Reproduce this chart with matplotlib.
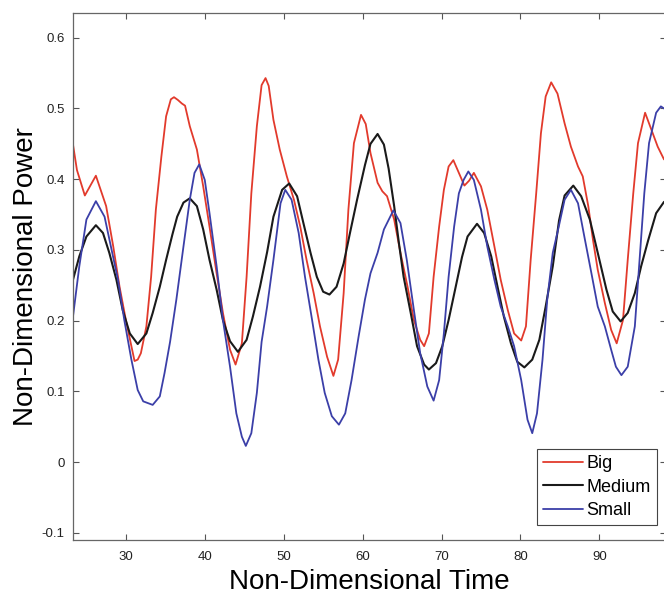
import matplotlib
matplotlib.use("Agg")
import matplotlib.pyplot as plt

# --- data ---
big_t = [23.3, 23.8, 24.8, 26.2, 27.5, 28.4, 29.2, 30.0, 30.7, 31.1, 31.5, 31.9, 32.6,
         33.2, 33.8, 34.5, 35.1, 35.7, 36.1, 36.6, 37.1, 37.5, 38.1, 39.0, 39.8, 40.6,
         41.5, 42.3, 43.2, 43.9, 44.7, 45.3, 45.9, 46.6, 47.2, 47.7, 48.1, 48.7, 49.5,
         50.4, 51.3, 52.1, 52.9, 53.8, 54.6, 55.5, 56.3, 56.9, 57.6, 58.2, 58.9, 59.8,
         60.4, 61.0, 61.9, 62.5, 63.1, 64.0, 64.8, 65.7, 66.5, 67.3, 67.8, 68.4, 69.0,
         69.7, 70.3, 70.9, 71.5, 72.2, 72.9, 73.5, 74.1, 75.0, 75.8, 76.7, 77.5, 78.4,
         79.2, 80.1, 80.7, 81.3, 82.0, 82.6, 83.2, 83.9, 84.7, 85.6, 86.4, 87.3, 87.9,
         88.6, 89.2, 89.8, 90.7, 91.5, 92.2, 93.0, 93.6, 94.3, 94.9, 95.8, 96.6, 97.4,
         98.2]
big_p = [0.449, 0.413, 0.377, 0.405, 0.362, 0.305, 0.248, 0.201, 0.164, 0.143, 0.145, 0.154,
         0.192, 0.262, 0.357, 0.432, 0.489, 0.513, 0.516, 0.512, 0.507, 0.504, 0.475, 0.442,
         0.39, 0.333, 0.267, 0.211, 0.159, 0.138, 0.168, 0.262, 0.38, 0.475, 0.533, 0.543,
         0.532, 0.484, 0.442, 0.404, 0.371, 0.333, 0.286, 0.239, 0.192, 0.149, 0.122, 0.145,
         0.239, 0.357, 0.451, 0.491, 0.478, 0.437, 0.395, 0.383, 0.376, 0.343, 0.296, 0.248,
         0.201, 0.173, 0.164, 0.182, 0.262, 0.333, 0.385, 0.418, 0.427, 0.409, 0.391, 0.398,
         0.409, 0.39, 0.357, 0.305, 0.258, 0.215, 0.182, 0.172, 0.192, 0.286, 0.38, 0.465,
         0.517, 0.537, 0.521, 0.479, 0.446, 0.418, 0.404, 0.362, 0.314, 0.272, 0.225, 0.187,
         0.168, 0.201, 0.286, 0.38, 0.451, 0.494, 0.47, 0.446, 0.428]

med_t = [23.3, 24.1, 25.0, 26.2, 27.1, 27.9, 28.8, 29.6, 30.5, 31.5, 32.6, 33.4, 34.3,
         35.1, 35.9, 36.5, 37.3, 38.1, 39.0, 39.8, 40.6, 41.5, 42.3, 43.2, 44.2, 45.3,
         46.1, 47.0, 47.9, 48.7, 49.8, 50.7, 51.7, 52.5, 53.4, 54.2, 55.0, 55.8, 56.7,
         57.6, 58.4, 59.3, 60.3, 61.0, 61.9, 62.7, 63.3, 64.0, 64.6, 65.2, 66.1, 66.9,
         67.8, 68.4, 69.3, 70.1, 70.9, 71.8, 72.6, 73.3, 74.5, 75.4, 76.3, 77.1, 77.9,
         78.8, 79.6, 80.5, 81.5, 82.4, 83.2, 84.1, 84.9, 85.6, 86.7, 87.7, 88.8, 89.8,
         90.9, 91.7, 92.7, 93.6, 94.5, 95.3, 96.2, 97.2, 98.2]
med_p = [0.258, 0.291, 0.319, 0.335, 0.324, 0.296, 0.258, 0.215, 0.182, 0.167, 0.182, 0.211,
         0.248, 0.286, 0.322, 0.347, 0.367, 0.373, 0.362, 0.329, 0.286, 0.244, 0.201, 0.171,
         0.156, 0.173, 0.206, 0.248, 0.297, 0.347, 0.385, 0.394, 0.376, 0.338, 0.296, 0.262,
         0.241, 0.237, 0.248, 0.281, 0.324, 0.371, 0.42, 0.45, 0.464, 0.449, 0.415, 0.362,
         0.31, 0.262, 0.211, 0.164, 0.138, 0.131, 0.14, 0.164, 0.201, 0.248, 0.29, 0.319,
         0.337, 0.324, 0.291, 0.248, 0.206, 0.168, 0.142, 0.134, 0.145, 0.173, 0.22, 0.277,
         0.342, 0.377, 0.391, 0.376, 0.343, 0.296, 0.244, 0.213, 0.199, 0.211, 0.239, 0.277,
         0.314, 0.352, 0.368]

small_t = [23.3, 24.1, 25.0, 26.2, 27.3, 28.1, 29.0, 29.8, 30.7, 31.5, 32.2, 33.4, 34.3,
           34.9, 35.6, 36.4, 37.3, 38.1, 38.7, 39.3, 40.0, 40.6, 41.5, 42.3, 43.2, 44.0,
           44.7, 45.2, 45.9, 46.6, 47.2, 47.9, 48.7, 49.6, 50.2, 51.0, 51.9, 52.7, 53.6,
           54.4, 55.2, 56.1, 57.0, 57.8, 58.6, 59.5, 60.3, 61.0, 61.9, 62.7, 63.9, 64.8,
           65.6, 66.5, 67.3, 68.2, 69.0, 69.7, 70.3, 70.9, 71.6, 72.2, 72.8, 73.4, 74.1,
           75.0, 75.8, 76.7, 77.5, 78.4, 79.2, 80.1, 80.9, 81.5, 82.1, 82.8, 83.4, 84.1,
           84.8, 85.6, 86.4, 87.3, 88.1, 89.0, 89.8, 90.7, 91.5, 92.1, 92.8, 93.6, 94.5,
           95.1, 95.7, 96.3, 97.2, 97.8, 98.2]
small_p = [0.206, 0.277, 0.343, 0.369, 0.347, 0.305, 0.258, 0.201, 0.145, 0.102, 0.086, 0.081,
           0.093, 0.126, 0.17, 0.23, 0.305, 0.371, 0.409, 0.421, 0.399, 0.352, 0.277, 0.201,
           0.135, 0.069, 0.036, 0.023, 0.041, 0.098, 0.17, 0.22, 0.286, 0.366, 0.385, 0.371,
           0.324, 0.262, 0.201, 0.145, 0.098, 0.065, 0.053, 0.069, 0.116, 0.178, 0.23, 0.267,
           0.296, 0.329, 0.356, 0.338, 0.286, 0.215, 0.154, 0.107, 0.087, 0.116, 0.182, 0.262,
           0.333, 0.38, 0.399, 0.411, 0.399, 0.357, 0.305, 0.258, 0.22, 0.192, 0.164, 0.116,
           0.06, 0.041, 0.069, 0.145, 0.23, 0.296, 0.33, 0.371, 0.385, 0.366, 0.319, 0.267,
           0.22, 0.192, 0.159, 0.135, 0.123, 0.135, 0.192, 0.286, 0.38, 0.451, 0.494, 0.503,
           0.5]

x_ticks = [30, 40, 50, 60, 70, 80, 90]
y_ticks = [-0.1, 0, 0.1, 0.2, 0.3, 0.4, 0.5, 0.6]
y_labels = ["-0.1", "0", "0.1", "0.2", "0.3", "0.4", "0.5", "0.6"]

plt.rcParams['font.family'] = ['Liberation Sans', 'DejaVu Sans']

fig = plt.figure(figsize=(6.64, 5.99), dpi=100)
ax = fig.add_axes([73 / 664, 59 / 599, 593 / 664, 527 / 599])

line_kw = dict(solid_joinstyle='round', solid_capstyle='round')
ax.plot(big_t, big_p, color='#e23a2c', lw=1.3, label='Big', **line_kw)
ax.plot(med_t, med_p, color='#1a1a1a', lw=1.5, label='Medium', **line_kw)
ax.plot(small_t, small_p, color='#3b3fa8', lw=1.3, label='Small', **line_kw)

ax.set_xlim(23.3, 98.45)
ax.set_ylim(-0.11, 0.635)
ax.set_xticks(x_ticks)
ax.set_yticks(y_ticks)
ax.set_yticklabels(y_labels)
ax.tick_params(direction='in', length=4, width=0.8, colors='#555555',
               labelcolor='#222222', labelsize=9.5, top=True, right=True)
ax.tick_params(axis='x', pad=8)
ax.tick_params(axis='y', pad=6)
for s in ax.spines.values():
    s.set_color('#666666')
    s.set_linewidth(0.9)

ax.set_xlabel("Non-Dimensional Time", fontsize=20, labelpad=4)
ax.set_ylabel("Non-Dimensional Power", fontsize=20, labelpad=2)

leg = ax.legend(loc='lower right', bbox_to_anchor=(0.985, 0.028), borderaxespad=0,
                fontsize=13, fancybox=False, framealpha=1, edgecolor='#444444',
                handlelength=2.2, handletextpad=0.2, labelspacing=0.35,
                borderpad=0.35)
leg.get_frame().set_linewidth(0.8)

fig.savefig("out.png", dpi=100)
